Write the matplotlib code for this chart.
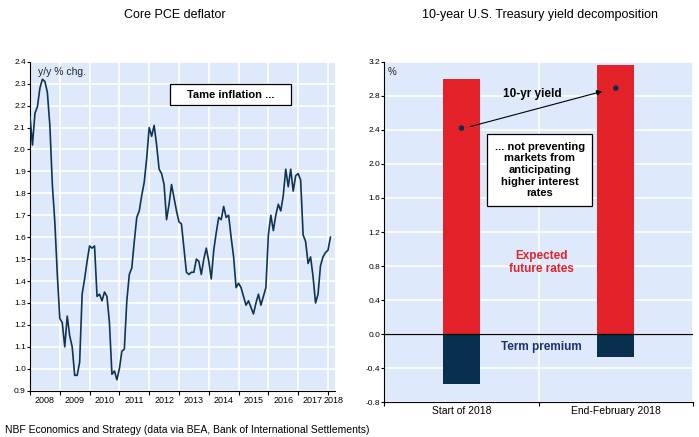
import numpy as np
import matplotlib
matplotlib.use("Agg")
import matplotlib.pyplot as plt
from matplotlib.patches import Rectangle
from matplotlib.ticker import FixedLocator, FixedFormatter

plt.rcParams['font.family'] = ['Liberation Sans', 'DejaVu Sans']
NARROW = ['Liberation Sans Narrow', 'Liberation Sans', 'DejaVu Sans']

# === Core PCE deflator, y/y % change, monthly from Jan 2008 ===
pce_start_year = 2008
pce_yoy = [
    2.15, 2.02, 2.165, 2.195, 2.28, 2.32, 2.31, 2.26, 2.11, 1.84, 1.67, 1.43,
    1.23, 1.21, 1.10, 1.24, 1.15, 1.10, 0.97, 0.97, 1.03, 1.34, 1.41, 1.49,
    1.56, 1.55, 1.56, 1.33, 1.34, 1.31, 1.35, 1.33, 1.21, 0.975, 0.99, 0.95,
    1.00, 1.08, 1.09, 1.31, 1.43, 1.46, 1.58, 1.69, 1.72, 1.79, 1.85, 1.96,
    2.10, 2.06, 2.11, 2.02, 1.91, 1.89, 1.84, 1.68, 1.75, 1.84, 1.78, 1.72,
    1.67, 1.66, 1.55, 1.44, 1.43, 1.44, 1.44, 1.50, 1.49, 1.43, 1.50, 1.55,
    1.49, 1.41, 1.54, 1.62, 1.69, 1.68, 1.74, 1.69, 1.70, 1.60, 1.51, 1.37,
    1.39, 1.37, 1.33, 1.29, 1.31, 1.28, 1.25, 1.30, 1.34, 1.29, 1.33, 1.37,
    1.61, 1.70, 1.63, 1.70, 1.75, 1.72, 1.79, 1.91, 1.83, 1.91, 1.81, 1.88,
    1.89, 1.86, 1.61, 1.58, 1.48, 1.51, 1.42, 1.30, 1.34, 1.47, 1.51, 1.53,
    1.54, 1.60,
]
year_labels = ["2008", "2009", "2010", "2011", "2012", "2013", "2014",
               "2015", "2016", "2017", "2018"]
pce_ticks = [0.9, 1.0, 1.1, 1.2, 1.3, 1.4, 1.5, 1.6, 1.7, 1.8, 1.9,
             2.0, 2.1, 2.2, 2.3, 2.4]

# === 10-year Treasury yield decomposition ===
periods = ["Start of 2018", "End-February 2018"]
expected_rates = [3.00, 3.16]
term_premium = [-0.58, -0.27]
yield_ticks = [-0.8, -0.4, 0.0, 0.4, 0.8, 1.2, 1.6, 2.0, 2.4, 2.8, 3.2]

BG = "#deeafb"
LINE = "#0f3554"
RED = "#e3222a"
NAVY = "#08304e"

fig = plt.figure(figsize=(6.99, 4.37), dpi=100)

# --- left panel ---
ax1 = fig.add_axes([0.0429, 0.1059, 0.4363, 0.7529])
ax1.set_facecolor(BG)
dates = pce_start_year + np.arange(len(pce_yoy)) / 12.0
ax1.plot(dates, pce_yoy, color=LINE, lw=1.2, zorder=3)

ax1.set_xlim(2008, 2018.235)
ax1.set_ylim(0.9, 2.4)
years = np.arange(2008, 2019)
ax1.xaxis.set_major_locator(FixedLocator(years))
ax1.xaxis.set_major_formatter(FixedFormatter([""] * len(years)))
label_pos = list(years[:-1] + 0.5) + [2018.2]
ax1.xaxis.set_minor_locator(FixedLocator(label_pos))
ax1.xaxis.set_minor_formatter(FixedFormatter(year_labels))
ax1.tick_params(axis="x", which="major", length=3, width=0.8, direction="out")
ax1.tick_params(axis="x", which="minor", length=0, labelsize=6.5, pad=4)
ax1.set_yticks(pce_ticks)
ax1.set_yticklabels([f"{t:.1f}" for t in pce_ticks])
ax1.tick_params(axis="y", length=2, width=0.8, labelsize=6, pad=1)
ax1.grid(True, which="major", color="white", lw=1.2, zorder=1)
for side in ["top", "right"]:
    ax1.spines[side].set_visible(False)
ax1.spines["left"].set_linewidth(0.8)
ax1.spines["bottom"].set_linewidth(0.8)
for lab in ax1.get_xticklabels(which="both") + ax1.get_yticklabels():
    lab.set_family(NARROW)

ax1.text(0.025, 0.985, "y/y % chg.", transform=ax1.transAxes,
         ha="left", va="top", fontsize=7.5, color="#222222")
ax1.add_patch(Rectangle((0.459, 0.868), 0.397, 0.063, transform=ax1.transAxes,
                        facecolor="white", edgecolor="black", lw=0.9, zorder=4))
ax1.text(0.657, 0.899, "Tame inflation ...", transform=ax1.transAxes,
         ha="center", va="center", fontsize=8, fontweight="bold", zorder=5)

# --- right panel ---
ax2 = fig.add_axes([0.5498, 0.0794, 0.4416, 0.7794])
ax2.set_facecolor(BG)
xpos = np.arange(len(periods)) + 0.5
ax2.bar(xpos, expected_rates, width=0.24, color=RED, zorder=3)
ax2.bar(xpos, term_premium, width=0.24, color=NAVY, zorder=3)
ten_yr = np.array(expected_rates) + np.array(term_premium)
ax2.scatter(xpos, ten_yr, s=16, marker="o", color=NAVY, zorder=5,
            edgecolor="none")
ax2.annotate("", xy=(xpos[1] - 0.07, ten_yr[1] - 0.03),
             xytext=(xpos[0] + 0.04, ten_yr[0] + 0.01),
             arrowprops=dict(arrowstyle="-|>", color="black", lw=0.8,
                             mutation_scale=8), zorder=6)

ax2.set_xlim(0, 2)
ax2.set_ylim(-0.8, 3.2)
ax2.xaxis.set_major_locator(FixedLocator([0, 1, 2]))
ax2.xaxis.set_major_formatter(FixedFormatter(["", "", ""]))
ax2.xaxis.set_minor_locator(FixedLocator(xpos))
ax2.xaxis.set_minor_formatter(FixedFormatter(periods))
ax2.tick_params(axis="x", which="major", length=3, width=0.8, direction="out")
ax2.tick_params(axis="x", which="minor", length=0, labelsize=7.5, pad=3)
ax2.set_yticks(yield_ticks)
ax2.set_yticklabels([f"{t:.1f}" for t in yield_ticks])
ax2.tick_params(axis="y", length=2, width=0.8, labelsize=6, pad=1)
ax2.grid(True, which="major", color="white", lw=1.2, zorder=1)
ax2.axhline(0, color="black", lw=0.9, zorder=4)
for side in ["top", "right"]:
    ax2.spines[side].set_visible(False)
ax2.spines["left"].set_linewidth(0.8)
ax2.spines["bottom"].set_linewidth(0.8)
for lab in ax2.get_yticklabels():
    lab.set_family(NARROW)

ax2.text(0.012, 0.985, "%", transform=ax2.transAxes, ha="left", va="top",
         fontsize=7, color="#222222")
ax2.text(0.96, 2.82, "10-yr yield", ha="center", va="center",
         fontsize=8.5, fontweight="bold", zorder=6)
ax2.add_patch(Rectangle((0.332, 0.576), 0.342, 0.212, transform=ax2.transAxes,
                        facecolor="white", edgecolor="black", lw=0.9, zorder=6))
ax2.text(0.503, 0.682,
         "... not preventing\nmarkets from\nanticipating\nhigher interest\nrates",
         transform=ax2.transAxes, ha="center", va="center", fontsize=8,
         fontweight="bold", linespacing=1.2, zorder=7)
ax2.text(1.02, 0.84, "Expected\nfuture rates", ha="center", va="center",
         fontsize=8.5, fontweight="bold", color=RED, linespacing=1.05, zorder=6)
ax2.text(1.02, -0.15, "Term premium", ha="center", va="center",
         fontsize=8.5, fontweight="bold", color="#1c2f6e", zorder=6)

# --- titles and source ---
fig.text(0.25, 0.966, "Core PCE deflator", ha="center", va="center",
         fontsize=9)
fig.text(0.773, 0.966, "10-year U.S. Treasury yield decomposition",
         ha="center", va="center", fontsize=9)
fig.text(0.007, 0.017,
         "NBF Economics and Strategy (data via BEA, Bank of International Settlements)",
         ha="left", va="center", fontsize=7.5)

fig.savefig("out.png", dpi=100)
